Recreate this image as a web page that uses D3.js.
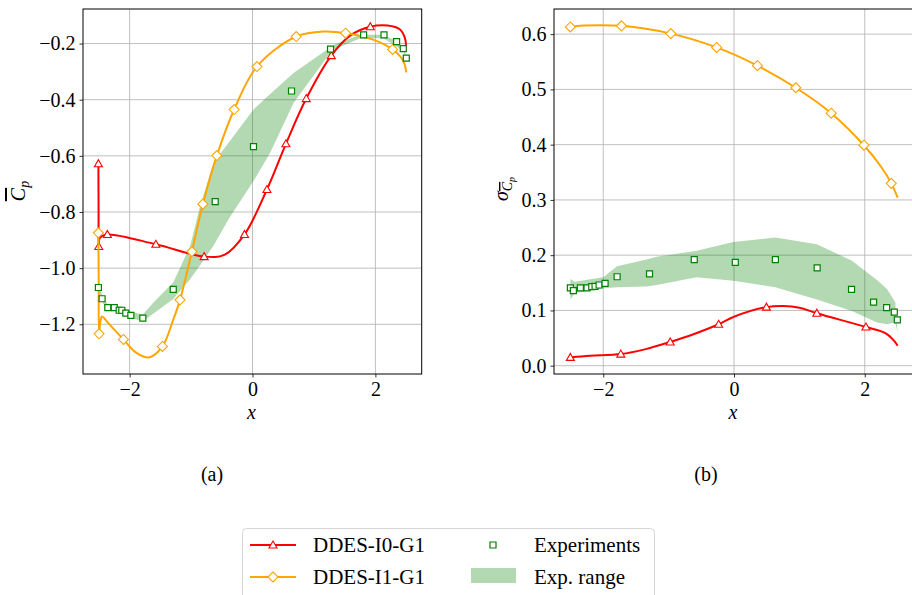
<!DOCTYPE html>
<html>
<head>
<meta charset="utf-8">
<script src="https://cdn.jsdelivr.net/npm/d3@7"></script>
<style>
  body { margin: 0; background: #fff; }
  text { font-family: "Liberation Serif", "Times New Roman", serif; fill: #000; }
</style>
</head>
<body>
<svg id="chart" width="912" height="595"></svg>
<script>
// ---- data ----
var xTicks = [-2, 0, 2];
var cpTicks = [-1.2, -1.0, -0.8, -0.6, -0.4, -0.2];
var sdTicks = [0.0, 0.1, 0.2, 0.3, 0.4, 0.5, 0.6];

// (a) mean Cp
var cpI0X = [-2.508, -2.505, -2.502, -2.485, -2.362, -1.573, -0.787, -0.45, -0.130, 0.235, 0.544, 0.875, 1.282, 1.60, 1.917, 2.20, 2.40, 2.48, 2.50];
var cpI0Y = [-0.628, -0.80, -0.923, -0.892, -0.880, -0.915, -0.959, -0.952, -0.880, -0.720, -0.557, -0.396, -0.243, -0.170, -0.140, -0.136, -0.150, -0.180, -0.212];
var cpI0Marks = [0, 2, 4, 5, 6, 8, 9, 10, 11, 12, 14];

var cpI1X = [-2.508, -2.503, -2.497, -2.475, -2.45, -2.35, -2.10, -1.90, -1.68, -1.466, -1.30, -1.18, -0.987, -0.808, -0.58, -0.298, 0.072, 0.712, 1.16, 1.515, 1.95, 2.28, 2.45, 2.503];
var cpI1Y = [-0.874, -1.05, -1.234, -1.19, -1.172, -1.195, -1.254, -1.300, -1.318, -1.279, -1.19, -1.113, -0.941, -0.772, -0.599, -0.435, -0.282, -0.175, -0.157, -0.163, -0.185, -0.221, -0.26, -0.303];
var cpI1Marks = [0, 2, 6, 9, 11, 12, 13, 14, 15, 16, 17, 19, 21];

var cpExpX = [-2.508, -2.448, -2.355, -2.25, -2.17, -2.127, -2.062, -1.98, -1.785, -1.29, -0.607, 0.016, 0.635, 1.27, 1.808, 2.14, 2.345, 2.454, 2.503];
var cpExpY = [-1.069, -1.109, -1.141, -1.141, -1.15, -1.15, -1.16, -1.168, -1.178, -1.076, -0.763, -0.567, -0.369, -0.220, -0.169, -0.169, -0.193, -0.218, -0.252];

var cpBandX  = [-2.508, -2.448, -2.355, -2.25, -2.13, -1.97, -1.785, -1.60, -1.29, -1.015, -0.852, -0.635, -0.39, 0.016, 0.288, 0.668, 1.21, 1.32, 1.754, 2.135, 2.35, 2.46, 2.503];
var cpBandHi = [-1.055, -1.095, -1.13, -1.132, -1.14, -1.155, -1.165, -1.12, -1.051, -0.921, -0.779, -0.625, -0.553, -0.435, -0.38, -0.305, -0.222, -0.205, -0.169, -0.169, -0.193, -0.216, -0.245];
var cpBandLo = [-1.08, -1.12, -1.152, -1.152, -1.16, -1.178, -1.19, -1.16, -1.11, -1.04, -0.99, -0.92, -0.826, -0.69, -0.589, -0.412, -0.25, -0.222, -0.181, -0.181, -0.211, -0.228, -0.26];

// (b) std of Cp
var sdI0X = [-2.503, -2.2, -1.732, -1.35, -0.976, -0.62, -0.235, 0.0, 0.496, 0.756, 1.0, 1.267, 2.018, 2.314, 2.45, 2.503];
var sdI0Y = [0.015, 0.018, 0.021, 0.030, 0.043, 0.057, 0.075, 0.0886, 0.106, 0.108, 0.105, 0.095, 0.070, 0.059, 0.045, 0.036];
var sdI0Marks = [0, 2, 4, 6, 8, 11, 12];

var sdI1X = [-2.503, -2.3, -1.721, -0.966, -0.266, 0.358, 0.945, 1.487, 1.987, 2.25, 2.406, 2.503];
var sdI1Y = [0.613, 0.6155, 0.615, 0.601, 0.576, 0.543, 0.503, 0.457, 0.399, 0.36, 0.330, 0.304];
var sdI1Marks = [0, 2, 3, 4, 5, 6, 7, 8, 10];

var sdExpX = [-2.503, -2.457, -2.35, -2.248, -2.176, -2.125, -2.064, -1.972, -1.788, -1.292, -0.608, 0.02, 0.633, 1.272, 1.798, 2.135, 2.334, 2.452, 2.498];
var sdExpY = [0.141, 0.136, 0.141, 0.141, 0.143, 0.1435, 0.146, 0.149, 0.161, 0.166, 0.192, 0.187, 0.192, 0.177, 0.138, 0.115, 0.105, 0.097, 0.083];

var sdBandX  = [-2.503, -2.437, -2.0, -1.788, -1.338, -1.185, -0.572, -0.01, 0.632, 1.267, 1.804, 2.187, 2.34, 2.467, 2.503];
var sdBandHi = [0.157, 0.152, 0.160, 0.180, 0.192, 0.197, 0.208, 0.224, 0.232, 0.220, 0.190, 0.155, 0.139, 0.115, 0.059];
var sdBandLo = [0.120, 0.131, 0.140, 0.142, 0.1435, 0.146, 0.160, 0.1536, 0.142, 0.120, 0.099, 0.078, 0.075, 0.078, 0.059];

var legendNames = ['DDES-I0-G1', 'DDES-I1-G1', 'Experiments', 'Exp. range'];
var panelNames = ['(a)', '(b)'];

// ---- styling ----
var RED = '#ff0000', ORANGE = '#ffa500', GREEN = '#008000', BAND = 'rgba(0,128,0,0.3)';
var SERIF = '"Liberation Serif", "Times New Roman", serif';
var FS = 20;
var svg = d3.select('#chart');

var tri = 'M0,-4L4,3L-4,3Z';
var dia = 'M0,-5L5,0L0,5L-5,0Z';
var sq  = 'M-3,-3H3V3H-3Z';

function pad(lo, hi) { var s = hi - lo; return [lo - 0.05 * s, hi + 0.05 * s]; }
function fmt(v) { return d3.format('.1f')(v).replace('-', '\u2212'); }
function fmtX(v) { return String(v).replace('-', '\u2212'); }

function panel(o) {
    var g = svg.append('g');
    var xs = [].concat(o.l0x, o.l1x, o.ex, o.bx);
    var ys = [].concat(o.l0y, o.l1y, o.ey, o.blo, o.bhi);
    var x = d3.scaleLinear().domain(pad(d3.min(xs), d3.max(xs))).range([o.left, o.right]);
    var y = d3.scaleLinear().domain(pad(d3.min(ys), d3.max(ys))).range([o.bottom, o.top]);

    // grid
    g.selectAll('.gx').data(xTicks).enter().append('line')
        .attr('x1', d => x(d)).attr('x2', d => x(d))
        .attr('y1', o.top).attr('y2', o.bottom)
        .attr('stroke', '#b0b0b0').attr('stroke-width', 0.8);
    g.selectAll('.gy').data(o.yTicks).enter().append('line')
        .attr('y1', d => y(d)).attr('y2', d => y(d))
        .attr('x1', o.left).attr('x2', o.right)
        .attr('stroke', '#b0b0b0').attr('stroke-width', 0.8);

    // experimental range
    var area = d3.area().x((d, i) => x(o.bx[i])).y0((d, i) => y(o.blo[i])).y1((d, i) => y(o.bhi[i]));
    g.append('path').attr('d', area(o.bx)).attr('fill', BAND).attr('stroke', 'none');

    var line = d3.line().x(d => x(d[0])).y(d => y(d[1])).curve(d3.curveCatmullRom.alpha(0.5));
    function series(xx, yy, marks, col, shape) {
        var pts = xx.map((v, i) => [v, yy[i]]);
        g.append('path').attr('d', line(pts)).attr('fill', 'none')
            .attr('stroke', col).attr('stroke-width', 2);
        g.selectAll(null).data(marks.map(i => pts[i])).enter().append('path')
            .attr('d', shape)
            .attr('transform', d => `translate(${x(d[0])},${y(d[1])})`)
            .attr('fill', '#fff').attr('stroke', col).attr('stroke-width', 1.1);
    }
    series(o.l0x, o.l0y, o.l0m, RED, tri);
    series(o.l1x, o.l1y, o.l1m, ORANGE, dia);

    g.selectAll(null).data(o.ex).enter().append('path')
        .attr('d', sq)
        .attr('transform', (d, i) => `translate(${x(d)},${y(o.ey[i])})`)
        .attr('fill', '#fff').attr('stroke', GREEN).attr('stroke-width', 1.2);

    // frame
    g.append('rect').attr('x', o.left).attr('y', o.top)
        .attr('width', o.right - o.left).attr('height', o.bottom - o.top)
        .attr('fill', 'none').attr('stroke', '#000').attr('stroke-width', 1);

    // axes
    var ax = g.append('g').attr('transform', `translate(0,${o.bottom})`)
        .call(d3.axisBottom(x).tickValues(xTicks).tickSize(3.5).tickPadding(4).tickFormat(fmtX));
    var ay = g.append('g').attr('transform', `translate(${o.left},0)`)
        .call(d3.axisLeft(y).tickValues(o.yTicks).tickSize(3.5).tickPadding(4).tickFormat(fmt));
    [ax, ay].forEach(function(a) {
        a.attr('font-family', SERIF).attr('font-size', FS);
        a.select('.domain').remove();
        a.selectAll('line').attr('stroke', '#000').attr('stroke-width', 0.8);
        a.selectAll('text').attr('font-family', SERIF).style('font-family', SERIF).style('font-size', FS + 'px');
    });

    // x label + panel name
    g.append('text').attr('x', x(0) - 1).attr('y', 419).attr('text-anchor', 'middle')
        .style('font-size', FS + 'px').style('font-style', 'italic').text('x');
    g.append('text').attr('x', o.capX).attr('y', 481).attr('text-anchor', 'middle')
        .style('font-size', FS + 'px').text(o.caption);
    return g;
}

var ga = panel({
    left: 83, right: 421.7, top: 9, bottom: 374, yTicks: cpTicks,
    l0x: cpI0X, l0y: cpI0Y, l0m: cpI0Marks, l1x: cpI1X, l1y: cpI1Y, l1m: cpI1Marks,
    ex: cpExpX, ey: cpExpY, bx: cpBandX, blo: cpBandLo, bhi: cpBandHi,
    capX: 212, caption: panelNames[0]
});
var gb = panel({
    left: 554, right: 914, top: 9, bottom: 374, yTicks: sdTicks,
    l0x: sdI0X, l0y: sdI0Y, l0m: sdI0Marks, l1x: sdI1X, l1y: sdI1Y, l1m: sdI1Marks,
    ex: sdExpX, ey: sdExpY, bx: sdBandX, blo: sdBandLo, bhi: sdBandHi,
    capX: 706, caption: panelNames[1]
});

// y labels
var ya = ga.append('text').attr('transform', 'translate(25,191) rotate(-90)')
    .attr('text-anchor', 'middle').style('font-size', FS + 'px').style('font-style', 'italic');
ya.append('tspan').style('text-decoration', 'overline').text('C');
ya.append('tspan').attr('dy', 4).style('font-size', '14px').text('p');

var yb = gb.append('text').attr('transform', 'translate(508,189) rotate(-90)')
    .attr('text-anchor', 'middle').style('font-size', FS + 'px').style('font-style', 'italic');
yb.append('tspan').text('\u03c3');
yb.append('tspan').attr('dy', 4).style('font-size', '14px').style('text-decoration', 'overline').text('C');
yb.append('tspan').attr('dy', 3).style('font-size', '10px').text('p');

// legend
var lg = svg.append('g');
lg.append('rect').attr('x', 242.5).attr('y', 528.5).attr('width', 412).attr('height', 80).attr('rx', 4)
    .attr('fill', '#fff').attr('stroke', '#d6d6d6').attr('stroke-width', 1);
var rows = [545, 577];
[[RED, tri], [ORANGE, dia]].forEach(function(s, i) {
    lg.append('line').attr('x1', 250).attr('x2', 296).attr('y1', rows[i]).attr('y2', rows[i])
        .attr('stroke', s[0]).attr('stroke-width', 2);
    lg.append('path').attr('d', s[1]).attr('transform', `translate(273,${rows[i]})`)
        .attr('fill', '#fff').attr('stroke', s[0]).attr('stroke-width', 1.1);
    lg.append('text').attr('x', 313).attr('y', rows[i] + 7).style('font-size', '21px').text(legendNames[i]);
});
lg.append('path').attr('d', sq).attr('transform', `translate(493,${rows[0]})`)
    .attr('fill', '#fff').attr('stroke', GREEN).attr('stroke-width', 1.2);
lg.append('text').attr('x', 534).attr('y', rows[0] + 7).style('font-size', '21px').text(legendNames[2]);
lg.append('rect').attr('x', 471).attr('y', 568).attr('width', 45).attr('height', 15).attr('fill', BAND);
lg.append('text').attr('x', 534).attr('y', rows[1] + 7).style('font-size', '21px').text(legendNames[3]);
</script>
</body>
</html>
